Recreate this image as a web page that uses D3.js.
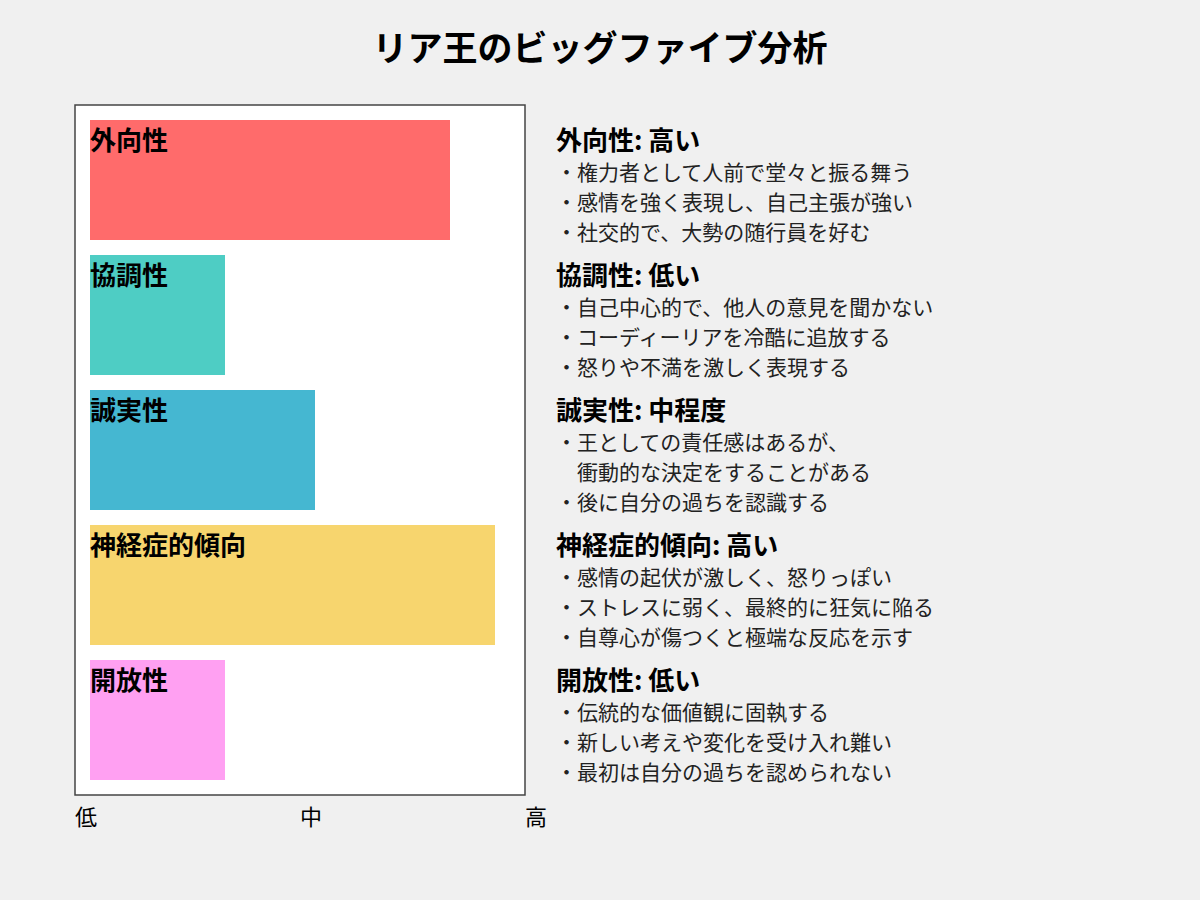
<!DOCTYPE html>
<html lang="ja">
<head>
<meta charset="utf-8">
<script src="https://cdn.jsdelivr.net/npm/d3@7"></script>
<style>
  html, body { margin: 0; padding: 0; background: #f0f0f0; }
  svg { display: block; font-family: "Noto Sans CJK JP", "Noto Sans", sans-serif; }
</style>
</head>
<body>
<svg id="chart" width="1200" height="900"></svg>
<script>
const title = "リア王のビッグファイブ分析";
const traits = ["外向性", "協調性", "誠実性", "神経症的傾向", "開放性"];
const scores = [8, 3, 5, 9, 3];
const colors = ["#FF6B6B", "#4ECDC4", "#45B7D1", "#F7D56E", "#FFA0F2"];
const levels = ["高い", "低い", "中程度", "高い", "低い"];
const descriptions = [
  ["・権力者として人前で堂々と振る舞う", "・感情を強く表現し、自己主張が強い", "・社交的で、大勢の随行員を好む"],
  ["・自己中心的で、他人の意見を聞かない", "・コーディーリアを冷酷に追放する", "・怒りや不満を激しく表現する"],
  ["・王としての責任感はあるが、", "　衝動的な決定をすることがある", "・後に自分の過ちを認識する"],
  ["・感情の起伏が激しく、怒りっぽい", "・ストレスに弱く、最終的に狂気に陥る", "・自尊心が傷つくと極端な反応を示す"],
  ["・伝統的な価値観に固執する", "・新しい考えや変化を受け入れ難い", "・最初は自分の過ちを認められない"]
];
const axisLabels = ["低", "中", "高"];

const svg = d3.select("#chart");

svg.append("text")
  .attr("x", 600).attr("y", 61)
  .attr("text-anchor", "middle")
  .attr("font-size", 35).attr("font-weight", "bold")
  .attr("fill", "#000")
  .text(title);

// plot frame
const frame = {x: 75, y: 105, w: 450, h: 690};
svg.append("rect")
  .attr("x", frame.x).attr("y", frame.y)
  .attr("width", frame.w).attr("height", frame.h)
  .attr("fill", "#fff").attr("stroke", "#444").attr("stroke-width", 1.5);

const x = d3.scaleLinear().domain([0, 10]).range([90, 540]);
// step 135, bar height 120
const yb = d3.scaleBand().domain(traits)
  .range([120, 120 + 135 * traits.length - 15])
  .paddingInner(15 / 135).paddingOuter(0);

const g = svg.append("g");
g.selectAll("rect.bar").data(traits).join("rect")
  .attr("class", "bar")
  .attr("x", x(0))
  .attr("y", d => yb(d))
  .attr("width", (d, i) => x(scores[i]) - x(0))
  .attr("height", yb.bandwidth())
  .attr("fill", (d, i) => colors[i]);

g.selectAll("text.barlabel").data(traits).join("text")
  .attr("class", "barlabel")
  .attr("x", x(0))
  .attr("y", d => yb(d) + 30)
  .attr("font-size", 26).attr("font-weight", "bold")
  .attr("fill", "#000")
  .text(d => d);

// axis labels
const axisX = d3.scalePoint().domain(axisLabels).range([frame.x, frame.x + frame.w]);
svg.selectAll("text.axis").data(axisLabels).join("text")
  .attr("class", "axis")
  .attr("x", d => axisX(d))
  .attr("y", 825)
  .attr("font-size", 22)
  .attr("fill", "#000")
  .text(d => d);

// descriptions
const desc = svg.append("g");
traits.forEach((t, i) => {
  const top = yb(t);
  desc.append("text")
    .attr("x", 556).attr("y", top + 30)
    .attr("font-size", 26).attr("font-weight", "bold")
    .attr("fill", "#000")
    .text(t + ": " + levels[i]);
  descriptions[i].forEach((line, j) => {
    desc.append("text")
      .attr("x", 556).attr("y", top + 60 + j * 30)
      .attr("font-size", 21)
      .attr("fill", "#222")
      .text(line);
  });
});
</script>
</body>
</html>
